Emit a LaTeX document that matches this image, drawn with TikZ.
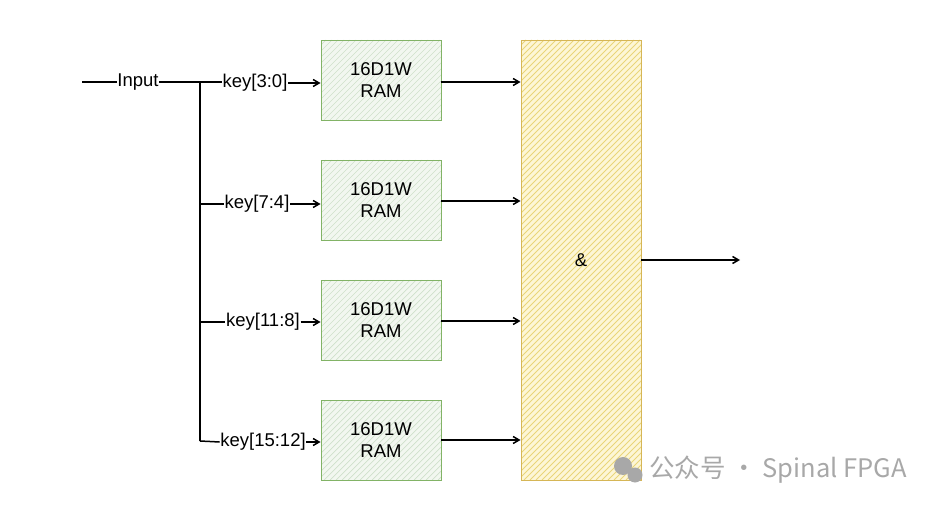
\documentclass[tikz,border=0pt]{standalone}
\usepackage{fontspec}
\setmainfont{Liberation Sans}
\newfontfamily\cjkfont{Noto Sans CJK SC}
\usetikzlibrary{arrows.meta}
\definecolor{gfill}{HTML}{F2F7F0}
\definecolor{gline}{HTML}{82B366}
\definecolor{ghatch}{HTML}{CFE0CB}
\definecolor{yfill}{HTML}{FDF6D6}
\definecolor{yline}{HTML}{D6B656}
\definecolor{yhatch}{HTML}{E9D579}
\definecolor{wm}{HTML}{A8A8A8}
\tikzset{
  ram/.style={draw=gline, line width=0.9pt, minimum width=120pt, minimum height=80pt,
    align=center, font=\fontsize{18.5}{22}\selectfont, inner sep=0pt},
  andbox/.style={draw=yline, line width=0.9pt, minimum width=120pt, minimum height=440pt,
    font=\fontsize{18.5}{22}\selectfont, inner sep=0pt},
  lbl/.style={font=\fontsize{18.5}{22}\selectfont, inner sep=0.5pt, fill=white},
  wire/.style={line width=1.5pt, draw=black},
  arr/.style={wire, -{Straight Barb[length=6pt,width=7pt]}},
  hatchg/.style={draw=ghatch, line width=0.7pt},
  hatchy/.style={draw=yhatch, line width=0.8pt}
}
\begin{document}
\begin{tikzpicture}[x=1pt,y=-1pt]
\useasboundingbox (0,0) rectangle (931,510);
% hatched fills
\foreach \yy in {40,160,280,400}{
  \fill[gfill] (321,\yy) rectangle (441,\yy+80);
  \begin{scope}
    \clip (321,\yy) rectangle (441,\yy+80);
    \foreach \i in {240,246,...,450}{\draw[hatchg] (\i,\yy+80) -- ++(80,-80);}
  \end{scope}
}
\fill[yfill] (521,40) rectangle (641,480);
\begin{scope}
  \clip (521,40) rectangle (641,480);
  \foreach \i in {80,86,...,650}{\draw[hatchy] (\i,480) -- ++(440,-440);}
\end{scope}
% RAM blocks
\node[ram] (r1) at (381,80) {16D1W\\RAM};
\node[ram] (r2) at (381,200) {16D1W\\RAM};
\node[ram] (r3) at (381,320) {16D1W\\RAM};
\node[ram] (r4) at (381,440) {16D1W\\RAM};
\node[andbox] (and) at (581,260) {\&};
% input
\coordinate (in0) at (82,82);
\node[lbl] (inp) at (138,82) {Input};
\coordinate (split) at (200,82);
\coordinate (b2) at (200,204);
\coordinate (b3) at (200,322);
\coordinate (b4) at (200,441);
\node[lbl] (k1) at (255,83) {key[3:0]};
\node[lbl] (k2) at (257,204) {key[7:4]};
\node[lbl] (k3) at (263,322) {key[11:8]};
\node[lbl] (k4) at (263,442) {key[15:12]};
\draw[wire] (in0) -- (inp.west);
\draw[wire] (inp.east) -- (split) -- (k1.west |- split);
\draw[wire] (split) -- (b4);
\draw[wire] (b2) -- (k2.west);
\draw[wire] (b3) -- (k3.west);
\draw[wire] (b4) -- (k4.west);
\draw[arr] (k1.east) -- (k1.east -| r1.west);
\draw[arr] (k2.east) -- (k2.east -| r2.west);
\draw[arr] (k3.east) -- (k3.east -| r3.west);
\draw[arr] (k4.east) -- (k4.east -| r4.west);
\draw[arr] (r1.east |- 0,82) -- (and.west |- 0,82);
\draw[arr] (r2.east |- 0,201) -- (and.west |- 0,201);
\draw[arr] (r3.east |- 0,321) -- (and.west |- 0,321);
\draw[arr] (r4.east |- 0,440) -- (and.west |- 0,440);
\coordinate (out) at (740,260);
\draw[arr] (and.east) -- (out);
% watermark
\fill[wm] (623,466) circle (9);
\fill[wm] (635,475) circle (7.5);
\node[anchor=west, text=wm, font=\cjkfont\fontsize{25.5}{30}\selectfont, inner sep=0pt] (wmt) at (649,470) {公众号 · Spinal FPGA};
\end{tikzpicture}
\end{document}
